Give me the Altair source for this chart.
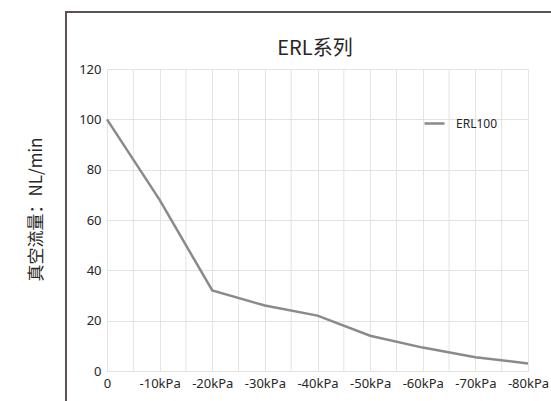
import altair as alt
import pandas as pd

pressure = [0, -10, -20, -30, -40, -50, -60, -70, -80]
flow = [100, 68, 32, 26, 22, 14, 9.3, 5.5, 3]
series = ["ERL100"] * len(pressure)
chart_title = ["ERL系列"]

df = pd.DataFrame({"pressure": pressure, "flow": flow, "series": series})

FONT_CJK = "Noto Sans CJK SC"
FONT = "Noto Sans"

line = alt.Chart(df).mark_line(strokeWidth=2.5).encode(
    x=alt.X(
        "pressure:Q",
        scale=alt.Scale(domain=[0, -80], nice=False, zero=False),
        axis=alt.Axis(
            values=[0, -10, -20, -30, -40, -50, -60, -70, -80],
            labelExpr="datum.value == 0 ? '0' : datum.value + 'kPa'",
            labelOverlap=False,
            labelFlush=False,
            labelBound=False,
            gridColor="#e3e3e3",
            domain=False,
            ticks=False,
            labelPadding=6,
            labelFontSize=13,
            labelColor="#262626",
            labelFont=FONT,
            title=None,
        ),
    ),
    y=alt.Y(
        "flow:Q",
        scale=alt.Scale(domain=[0, 120], nice=False),
        axis=alt.Axis(
            values=[0, 20, 40, 60, 80, 100, 120],
            gridColor="#e3e3e3",
            domain=False,
            ticks=False,
            labelPadding=6,
            labelFontSize=13,
            labelColor="#262626",
            labelFont=FONT,
            labelFlush=False,
            title="真空流量：NL/min",
            titleFont=FONT_CJK,
            titleFontSize=17,
            titleFontWeight="normal",
            titleColor="#262626",
            titleAngle=270,
            titleAlign="center",
            titleBaseline="middle",
            titleX=-71,
            titleY=140,
        ),
    ),
    color=alt.Color(
        "series:N",
        scale=alt.Scale(domain=["ERL100"], range=["#8a8a8a"]),
        legend=alt.Legend(
            title=None,
            orient="none",
            legendX=316,
            legendY=43,
            symbolType="stroke",
            symbolSize=400,
            symbolStrokeWidth=2.5,
            labelFont=FONT,
            labelFontSize=12,
            labelColor="#262626",
            labelOffset=10,
        ),
    ),
)

# minor vertical grid every 5 kPa
minor = pd.DataFrame({"p": [-5, -15, -25, -35, -45, -55, -65, -75]})
minor_grid = alt.Chart(minor).mark_rule(color="#e3e3e3", strokeWidth=1).encode(
    x=alt.X("p:Q", scale=alt.Scale(domain=[0, -80], nice=False, zero=False)),
)

title_df = pd.DataFrame({"t": chart_title})
title_mark = alt.Chart(title_df).mark_text(
    font=FONT_CJK, fontSize=20, color="#262626", align="center", baseline="alphabetic"
).encode(text="t:N", x=alt.value(208), y=alt.value(-14))

frame_v = alt.Chart(df).mark_rule(color="#5a5352", strokeWidth=2).encode(
    x=alt.value(-41), y=alt.value(-57), y2=alt.value(340)
)
frame_h = alt.Chart(df).mark_rule(color="#5a5352", strokeWidth=2).encode(
    x=alt.value(-42), x2=alt.value(450), y=alt.value(-57)
)

chart = alt.layer(minor_grid, line, title_mark, frame_v, frame_h).properties(
    width=421,
    height=302,
    autosize=alt.AutoSizeParams(type="none"),
    padding={"left": 107, "top": 69, "right": 23, "bottom": 30},
).configure_view(stroke=None).configure(background="white")

chart.save("out.html", embed_options={"renderer": "svg", "actions": False})
